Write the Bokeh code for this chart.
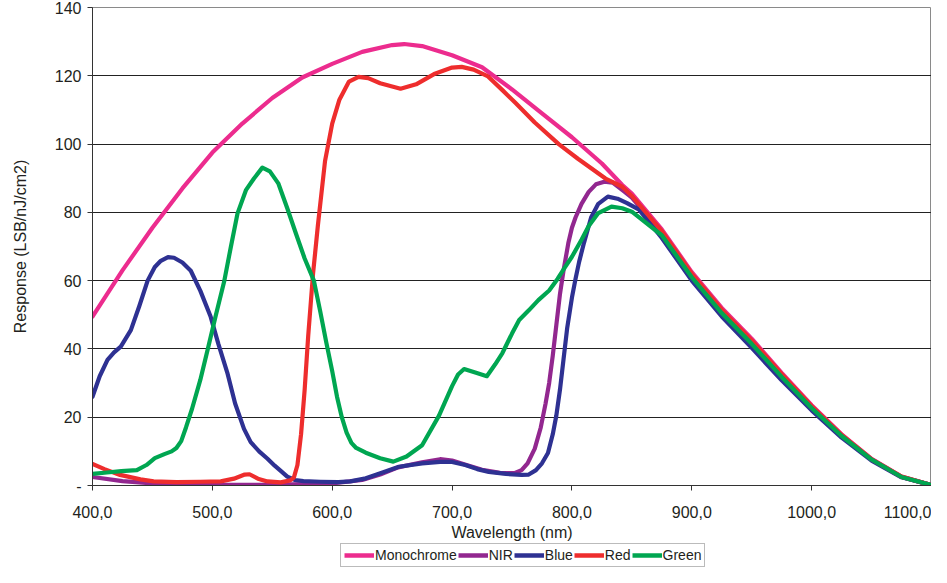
from bokeh.plotting import figure
from bokeh.models import Legend, LegendItem, FixedTicker
from bokeh.layouts import column
from bokeh.embed import file_html
from bokeh.resources import INLINE

# ---- data ----
x_ticks = [400, 500, 600, 700, 800, 900, 1000, 1100]
x_tick_labels = ["400,0", "500,0", "600,0", "700,0", "800,0", "900,0", "1000,0", "1100,0"]
y_ticks = [0, 20, 40, 60, 80, 100, 120, 140]
y_tick_labels = ["-", "20", "40", "60", "80", "100", "120", "140"]

mono_x = [400, 425, 450, 475, 500, 525, 550, 575, 600, 625, 650, 660, 675, 700, 725, 750, 775,
          800, 825, 842, 850, 875, 900, 925, 950, 975, 1000, 1025, 1050, 1075, 1100]
mono_y = [49.5, 63, 75.5, 87, 97.5, 106, 113.5, 119.5, 123.5, 127, 129, 129.3, 128.7, 126, 122.5,
          116, 109, 102, 94.3, 88, 85.5, 75, 62.5, 52, 43, 33, 23.5, 15, 7.8, 2.6, 0.1]

nir_x = [400, 425, 450, 475, 500, 550, 600, 625, 640, 655, 675, 690, 700, 712, 725, 740, 752, 758,
         763, 769, 774, 778, 781, 784, 787, 790, 793, 797, 800, 803, 808, 814, 820, 827, 834, 844,
         850, 875, 900, 925, 950, 975, 1000, 1025, 1050, 1075, 1100]
nir_y = [2.5, 1.3, 0.6, 0.3, 0.2, 0.2, 0.6, 1.6, 3.2, 5.3, 6.8, 7.7, 7.3, 6, 4.6, 3.7, 3.6, 4.5,
         6.5, 10.8, 17, 24, 30, 38, 47, 56, 63, 71, 75.5, 78.5, 82.5, 86, 88.2, 89, 88.7, 86,
         84.3, 74, 61.3, 50.8, 41.8, 32, 22.8, 14.6, 7.6, 2.5, 0.1]

blue_x = [400, 406, 412.5, 418, 423.6, 432, 439, 446, 452, 457, 463, 468, 475, 482, 490, 498.6,
          505, 512.5, 519, 526.4, 532, 539, 545.8, 552, 558, 562.5, 569, 576, 590, 605, 615, 628,
          642, 655.6, 675, 690, 700, 711, 721, 730.6, 745, 758, 764, 770, 775, 780, 784, 787, 790,
          793, 796, 800, 803, 806, 810, 816, 822, 830, 838, 846, 856, 875, 900, 925, 950, 975,
          1000, 1025, 1050, 1075, 1100]
blue_y = [26, 32, 36.8, 39, 40.7, 45.5, 52.5, 60, 64, 65.8, 66.9, 66.7, 65.3, 62.9, 57, 49.4,
          41.5, 33, 24, 16.6, 12.7, 10, 7.9, 5.8, 4, 2.6, 1.6, 1.3, 1.1, 1.0, 1.2, 2.1,
          3.8, 5.5, 6.5, 6.9, 6.9, 6, 4.8, 4, 3.4, 3.1, 3.2, 4.5, 6.5, 9.5, 15, 20.5, 28,
          37, 46, 55, 60.5, 65.5, 71, 78.5, 82.5, 84.6, 84, 82.7, 80.8, 72.5, 60, 49.5, 40.3, 30.8,
          22, 14, 7.3, 2.4, 0.1]

red_x = [400, 410, 423, 440, 451, 470, 490, 507, 518, 527, 531, 538, 546, 557, 565, 568, 571, 574,
         577, 580, 584, 588, 594, 600, 606, 614, 622, 630, 640, 657, 670, 685, 700, 708, 718, 730,
         742, 753, 769, 789, 805, 828, 842, 850, 875, 900, 925, 950, 975, 1000, 1025, 1050, 1075,
         1100]
red_y = [6.3, 4.8, 3.1, 1.8, 1.2, 1.0, 1.1, 1.2, 2.0, 3.2, 3.3, 2.0, 1.2, 0.9, 1.5, 2.3, 6, 15,
         28, 44, 62, 76, 95, 106, 113, 118.3, 119.7, 119.3, 117.8, 116.2, 117.5, 120.5, 122.4, 122.6,
         121.8, 119.8, 115.8, 112, 106.3, 100, 95.7, 89.9, 87.5, 84.8, 74.5, 62, 51.5, 42.5, 32.6,
         23.2, 14.8, 7.7, 2.6, 0.1]

green_x = [400, 412, 424, 437, 445, 452, 460, 466, 470, 474, 478, 483, 490, 496, 503, 510, 515.5,
           521, 528, 534.7, 541.7, 548, 555, 562.5, 570, 577, 584.7, 590, 595, 600, 604, 608, 612,
           616, 620, 628, 640, 651, 662, 675, 689, 700, 705, 710, 720, 729, 736, 742, 750, 756,
           764, 772, 781, 788, 794, 800, 808, 814, 822, 833, 842, 850, 875, 900, 925, 950, 975,
           1000, 1025, 1050, 1075, 1100]
green_y = [3.4, 3.8, 4.2, 4.5, 6, 8, 9.2, 10, 11, 13, 17, 22.4, 31, 39.7, 50, 60, 70,
           79.7, 86.5, 89.9, 93.1, 92, 88.5, 81.2, 73.5, 66.5, 60, 51, 42, 33.5, 26, 20, 15.5,
           12.5, 11, 9.6, 8, 7, 8.5, 11.8, 20.4, 29.1, 32.5, 34.1, 33, 32, 35.5, 38.8, 44.5, 48.5,
           51.3, 54.3, 57.1, 60.5, 63.8, 67, 72, 76, 79.8, 81.7, 81.2, 80.2, 73.3, 61, 50.5, 41.5,
           31.8, 22.7, 14.5, 7.6, 2.5, 0.1]

series_names = ["Monochrome", "NIR", "Blue", "Red", "Green"]
series_colors = ["#EC2C8E", "#92278F", "#2E3192", "#EE2D2D", "#00A651"]

FONT = "Liberation Sans"
TXT = "#231F20"

p = figure(width=931, height=543, x_range=(400, 1100), y_range=(0, 140),
           output_backend="svg", toolbar_location=None,
           min_border_left=92, min_border_right=0, min_border_top=7, min_border_bottom=57)
p.background_fill_color = "white"
p.border_fill_color = "white"
p.outline_line_color = "#8A8A8A"
p.outline_line_width = 1

data = [(mono_x, mono_y), (nir_x, nir_y), (blue_x, blue_y), (red_x, red_y), (green_x, green_y)]
for (xs, ys), c in zip(data, series_colors):
    p.line(xs, ys, line_color=c, line_width=4.2, line_join="round", line_cap="round")

# axes
p.xaxis.ticker = FixedTicker(ticks=x_ticks)
p.xaxis.major_label_overrides = {t: l for t, l in zip(x_ticks, x_tick_labels)}
p.yaxis.ticker = FixedTicker(ticks=y_ticks)
p.yaxis.major_label_overrides = {t: l for t, l in zip(y_ticks, y_tick_labels)}
p.xaxis.axis_label = "Wavelength (nm)"
p.yaxis.axis_label = "Response (LSB/nJ/cm2)"
for ax in (p.xaxis, p.yaxis):
    ax.axis_line_color = "#333333"
    ax.axis_line_width = 1
    ax.major_tick_line_color = "#333333"
    ax.major_tick_out = 5
    ax.major_tick_in = 0
    ax.minor_tick_line_color = None
    ax.major_label_text_font = FONT
    ax.major_label_text_font_size = "16px"
    ax.major_label_text_color = TXT
    ax.axis_label_text_font = FONT
    ax.axis_label_text_font_size = "16px"
    ax.axis_label_text_font_style = "normal"
    ax.axis_label_text_color = TXT
p.xaxis.major_label_standoff = 15
p.xaxis.axis_label_standoff = 3
p.yaxis.major_label_standoff = 6
p.yaxis.axis_label_standoff = 23

p.xgrid.grid_line_color = None
p.ygrid.grid_line_color = "#222222"
p.ygrid.grid_line_width = 1

# legend strip below the chart (same series, drawn outside this strip's view)
lg = figure(width=931, height=24, x_range=(0, 1), y_range=(0, 1),
            x_axis_location=None, y_axis_location=None,
            output_backend="svg", toolbar_location=None, min_border=0)
lg.grid.grid_line_color = None
lg.outline_line_color = None
lg.background_fill_color = "white"
lg.border_fill_color = "white"
leg_renderers = [lg.line(xs, ys, line_color=c, line_width=4.5)
                 for (xs, ys), c in zip(data, series_colors)]
items = [LegendItem(label=n, renderers=[r]) for n, r in zip(series_names, leg_renderers)]
legend = Legend(items=items, orientation="horizontal", location=(248, 0),
                glyph_width=30, glyph_height=14, label_standoff=1, spacing=1,
                padding=3, margin=0, border_line_color="#777777", border_line_width=1,
                label_text_font=FONT, label_text_font_size="14px", label_text_color=TXT,
                label_height=16, background_fill_color="white", background_fill_alpha=1)
lg.add_layout(legend, "center")

layout = column(p, lg, spacing=0)
open("out.html", "w").write(file_html(layout, INLINE))
